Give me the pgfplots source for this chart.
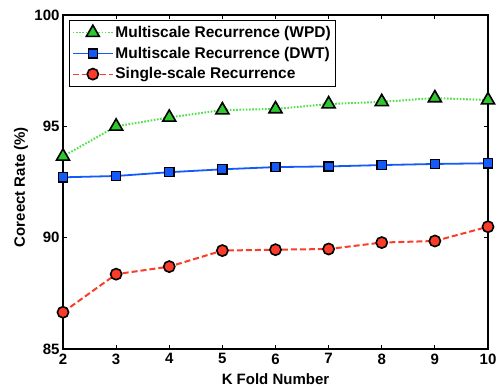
\documentclass[border=0pt]{standalone}
\usepackage{fontspec}
\setmainfont{Liberation Sans}
\usepackage{pgfplots}
\pgfplotsset{compat=1.18}
\definecolor{wpdline}{RGB}{80,225,70}
\definecolor{wpdfill}{RGB}{45,200,45}
\definecolor{dwtline}{RGB}{20,90,250}
\definecolor{dwtfill}{RGB}{20,90,250}
\definecolor{ssline}{RGB}{250,60,40}
\definecolor{ssfill}{RGB}{250,60,40}
\begin{document}
\begin{tikzpicture}
\useasboundingbox (-63pt,-38pt) rectangle (434pt,349pt);
\begin{axis}[
  at={(0,0)}, anchor=south west,
  scale only axis, width=425pt, height=334pt,
  xmin=2, xmax=10, ymin=85, ymax=100,
  xtick={2,3,4,5,6,7,8,9,10},
  ytick={85,90,95,100},
  tick align=inside,
  major tick length=4pt,
  axis line style={line width=1.1pt},
  every tick/.style={black, line width=1pt},
  /pgf/number format/assume math mode=true,
  ticklabel style={font=\bfseries\fontsize{15}{16}\selectfont},
  xticklabel style={yshift=-1pt},
  every axis x label/.style={at={(axis description cs:0.5,-0.072)}, anchor=north, inner sep=0pt, font=\bfseries\fontsize{15}{16}\selectfont},
  every axis y label/.style={at={(axis description cs:-0.0895,0.485)}, rotate=90, anchor=base, inner sep=0pt, font=\bfseries\fontsize{15}{16}\selectfont},
  xlabel={K Fold Number},
  ylabel={Coreect Rate (\%)},
  legend cell align=left,
  legend style={at={(axis description cs:0.0141,0.985)}, anchor=north west,
    draw=black, line width=0.6pt, fill=white, inner xsep=3pt, inner ysep=4pt,
    font=\bfseries\fontsize{15.5}{16}\selectfont,
    row sep=4pt},
  legend image code/.code={\draw[mark repeat=2,mark phase=2,#1,line width=1.1pt] plot coordinates {(0pt,0pt) (20pt,0pt) (40pt,0pt)};},
]
\addplot[draw=wpdline, line width=2pt, dash pattern=on 1.6pt off 1.6pt,
  mark=triangle*, mark size=7.5pt,
  mark options={solid, fill=wpdfill, draw=black, line width=1.6pt}]
  coordinates {(2,93.65) (3,95.0) (4,95.4) (5,95.73) (6,95.78) (7,96.0) (8,96.1) (9,96.27) (10,96.18)};
\addlegendentry{Multiscale Recurrence (WPD)}
\addplot[draw=dwtline, line width=1.8pt,
  mark=square*, mark size=4.6pt,
  mark options={solid, fill=dwtfill, draw=black, line width=1.4pt}]
  coordinates {(2,92.71) (3,92.77) (4,92.94) (5,93.07) (6,93.17) (7,93.2) (8,93.26) (9,93.31) (10,93.34)};
\addlegendentry{Multiscale Recurrence (DWT)}
\addplot[draw=ssline, line width=2pt, dash pattern=on 6pt off 3pt,
  mark=*, mark size=5.6pt,
  mark options={solid, fill=ssfill, draw=black, line width=1.6pt}]
  coordinates {(2,86.65) (3,88.36) (4,88.7) (5,89.42) (6,89.46) (7,89.49) (8,89.78) (9,89.85) (10,90.49)};
\addlegendentry{Single-scale Recurrence}
\end{axis}
\end{tikzpicture}
\end{document}
